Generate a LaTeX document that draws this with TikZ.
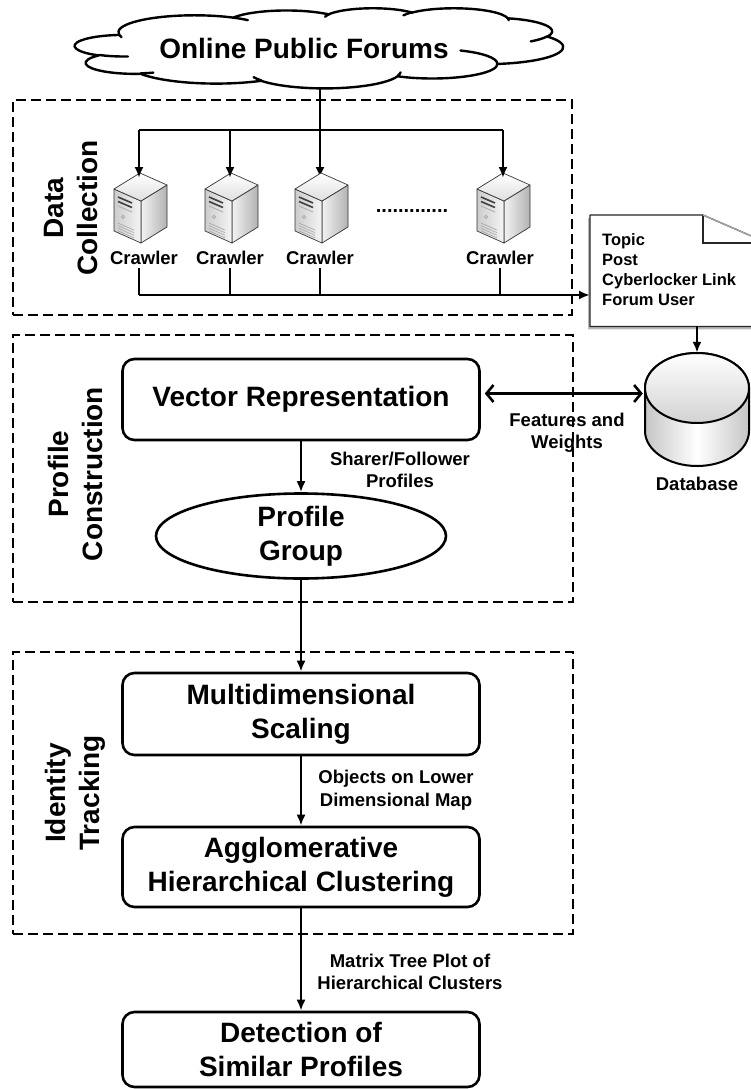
\documentclass[tikz,border=0pt]{standalone}
\usepackage{fontspec}
\setmainfont{Liberation Sans}
\usetikzlibrary{shapes.geometric,arrows.meta,calc}

% visual (DrawingML) angle -> parametric arc angles
\newcommand\cldang[5]{%
  \pgfmathsetmacro\cldts{atan2(sin(#4)/(#3),cos(#4)/(#2))}%
  \pgfmathsetmacro\cldte{atan2(sin(#4+#5)/(#3),cos(#4+#5)/(#2))}%
  \pgfmathsetmacro\cldd{((#5)>0)*mod(\cldte-\cldts+720,360)-((#5)<0)*mod(\cldts-\cldte+720,360)}%
  \expandafter\xdef\csname cld#1s\endcsname{\cldts}%
  \expandafter\xdef\csname cld#1d\endcsname{\cldd}%
}
\cldang{A}{67.53}{91.90}{-190.4875}{123.7805}
\cldang{B}{53.33}{72.67}{-144.1024}{89.9452}
\cldang{C}{43.65}{59.45}{-145.8079}{99.7230}
\cldang{D}{48.57}{65.95}{-130.9861}{117.2417}
\cldang{E}{53.33}{72.73}{-78.7089}{109.0269}
\cldang{F}{67.75}{92.20}{-46.2673}{130.2690}
\cldang{G}{57.85}{78.67}{0.6250}{114.0333}
\cldang{H}{67.52}{92.15}{22.4516}{115.1726}
\cldang{I}{77.20}{105.43}{66.2426}{75.7110}
\cldang{J}{43.60}{59.18}{-274.9421}{146.7356}
\cldang{K}{43.45}{59.45}{-246.8285}{152.5189}
\cldang{a}{43.45}{59.45}{86.7420}{26.4295}
\cldang{b}{43.60}{59.18}{73.6105}{11.4475}
\cldang{c}{67.52}{92.15}{137.6242}{14.0811}
\cldang{d}{67.52}{92.15}{6.4533}{15.9984}
\cldang{e}{57.85}{78.67}{-70.2924}{70.9174}
\cldang{f}{53.33}{72.73}{30.3180}{27.7515}
\cldang{g}{48.57}{65.95}{-13.7443}{14.8589}
\cldang{h}{48.57}{65.95}{-149.1815}{18.1954}
\cldang{i}{43.65}{59.45}{-163.4943}{17.6864}
\cldang{j}{67.53}{91.90}{-66.7070}{12.3194}
\cldang{k}{67.53}{91.90}{157.6544}{11.8582}

\tikzset{
  big/.style={font=\fontsize{28}{34}\selectfont\bfseries},
  small/.style={font=\fontsize{18.5}{22.5}\selectfont\bfseries, align=center, inner sep=0pt},
  doctxt/.style={font=\fontsize{16.5}{20}\selectfont\bfseries, align=left, inner sep=0pt},
  procbox/.style={draw, line width=2.6pt, rounded corners=12pt, minimum width=357pt, big, align=center, inner sep=0pt},
  dashbox/.style={draw, line width=2.6pt, dash pattern=on 10pt off 5pt, inner sep=0pt},
  sidelabel/.style={font=\fontsize{28}{34}\selectfont\bfseries, rotate=90, align=center, inner sep=0pt},
  arr/.style={line width=2.4pt, -{Latex[length=11pt,width=9pt]}},
  conn/.style={line width=2.4pt},
  cloudline/.style={line width=2.4pt, line join=round, line cap=round},
  barb/.style={line width=2.6pt, {Straight Barb[length=7pt,width=17pt]}-{Straight Barb[length=7pt,width=17pt]}},
  server/.pic={
    \shade[left color=gray!10, right color=gray!60, draw=black!80, line width=0.7pt, line join=round]
      (1,28) -- (27,12) -- (27,54) -- (1,70) -- cycle;
    \shade[left color=gray!40, right color=gray!8, draw=black!80, line width=0.7pt, line join=round]
      (-26,16) -- (1,28) -- (1,70) -- (-26,58) -- cycle;
    \shade[top color=white, bottom color=gray!25, draw=black!80, line width=0.7pt, line join=round]
      (0,0) -- (27,12) -- (1,28) -- (-26,16) -- cycle;
    \draw[black!75, line width=1.6pt] (-22,24) -- (-8,30);
    \draw[black!75, line width=1.6pt] (-22,28.5) -- (-8,34.5);
    \draw[gray!60, line width=1pt] (-22,33) -- (-8,39);
    \draw[gray!70, line width=0.6pt] (-17,44) circle[radius=1.6pt];
    \foreach \o in {0,2.6,5.2,7.8}{\draw[gray!70, line width=0.6pt] (-22,50+\o) -- (-6,57.1+\o);}
  }
}

\begin{document}
\begin{tikzpicture}[x=1pt,y=-1pt]
\fill[white] (0,0) rectangle (751,1089);
\useasboundingbox (0,0) rectangle (751,1089);

% ---------- dashed frames ----------
\node[dashbox, minimum width=559pt, minimum height=215pt] (dcbox) at (292.5,207.5) {};
\node[dashbox, minimum width=560pt, minimum height=267pt] (pcbox) at (293,468.5) {};
\node[dashbox, minimum width=560pt, minimum height=282pt] (itbox) at (293,793) {};

\node[sidelabel] (dcl) at (71,208) {Data\\Collection};
\node[sidelabel] (pcl) at (75,474) {Profile\\Construction};
\node[sidelabel] (itl) at (75,793) {Identity\\Tracking};

% ---------- crawlers (coordinates) ----------
\coordinate (s1) at (139,178);
\coordinate (s2) at (230,178);
\coordinate (s3) at (320,178);
\coordinate (s4) at (503,178);
\coordinate (t1) at (139,130);
\coordinate (t4) at (503,130);
\coordinate (b1) at (139,295);
\coordinate (cloudc) at (320,60);

% ---------- cloud ----------
\draw[arr] (cloudc) -- (s3);
\begin{scope}[shift={(75,8)}, x=1.1296pt, y=-0.18519pt]
  \filldraw[fill=white, cloudline] (39.00,143.70)
    arc[x radius=67.53, y radius=91.90, start angle=\cldAs, delta angle=\cldAd]
    arc[x radius=53.33, y radius=72.67, start angle=\cldBs, delta angle=\cldBd]
    arc[x radius=43.65, y radius=59.45, start angle=\cldCs, delta angle=\cldCd]
    arc[x radius=48.57, y radius=65.95, start angle=\cldDs, delta angle=\cldDd]
    arc[x radius=53.33, y radius=72.73, start angle=\cldEs, delta angle=\cldEd]
    arc[x radius=67.75, y radius=92.20, start angle=\cldFs, delta angle=\cldFd]
    arc[x radius=57.85, y radius=78.67, start angle=\cldGs, delta angle=\cldGd]
    arc[x radius=67.52, y radius=92.15, start angle=\cldHs, delta angle=\cldHd]
    arc[x radius=77.20, y radius=105.43, start angle=\cldIs, delta angle=\cldId]
    arc[x radius=43.60, y radius=59.18, start angle=\cldJs, delta angle=\cldJd]
    arc[x radius=43.45, y radius=59.45, start angle=\cldKs, delta angle=\cldKd]
    -- cycle;
  \draw[cloudline] (46.93,261.77) arc[x radius=43.45, y radius=59.45, start angle=\cldas, delta angle=\cldad];
  \draw[cloudline] (69.28,348.99) arc[x radius=43.60, y radius=59.18, start angle=\cldbs, delta angle=\cldbd];
  \draw[cloudline] (164.78,390.90) arc[x radius=67.52, y radius=92.15, start angle=\cldcs, delta angle=\cldcd];
  \draw[cloudline] (288.27,347.51) arc[x radius=67.52, y radius=92.15, start angle=\cldds, delta angle=\clddd];
  \draw[cloudline] (341.29,229.54) arc[x radius=57.85, y radius=78.67, start angle=\cldes, delta angle=\clded];
  \draw[cloudline] (417.98,153.54) arc[x radius=53.33, y radius=72.73, start angle=\cldfs, delta angle=\cldfd];
  \draw[cloudline] (383.24,54.26) arc[x radius=48.57, y radius=65.95, start angle=\cldgs, delta angle=\cldgd];
  \draw[cloudline] (290.78,39.52) arc[x radius=48.57, y radius=65.95, start angle=\cldhs, delta angle=\cldhd];
  \draw[cloudline] (221.41,47.20) arc[x radius=43.65, y radius=59.45, start angle=\cldis, delta angle=\cldid];
  \draw[cloudline] (140.00,51.92) arc[x radius=67.53, y radius=91.90, start angle=\cldjs, delta angle=\cldjd];
  \draw[cloudline] (41.27,157.89) arc[x radius=67.53, y radius=91.90, start angle=\cldks, delta angle=\cldkd];
\end{scope}
\node[big, inner sep=0pt] (cloudtxt) at (304,48) {Online Public Forums};

% ---------- crawlers ----------
\pic at (140,173) {server};
\pic at (231,173) {server};
\pic at (321,173) {server};
\pic at (503,173) {server};

\node[small] (c1) at (144,258) {Crawler};
\node[small] (c2) at (230,258) {Crawler};
\node[small] (c3) at (320,258) {Crawler};
\node[small] (c4) at (500,258) {Crawler};
\node[font=\fontsize{20}{20}\selectfont\bfseries, inner sep=0pt] (dots) at (412,211) {.............};

\draw[conn] (t1) -- (t4);
\draw[arr] (t1) -- (s1);
\draw[arr] (s2 |- t1) -- (s2);
\draw[arr] (t4) -- (s4);

\draw[conn, shorten <=3pt] (c1.south -| s1) -- (b1);
\draw[conn, shorten <=3pt] (c2.south -| s2) -- (s2 |- b1);
\draw[conn, shorten <=3pt] (c3.south -| s3) -- (s3 |- b1);
\draw[conn, shorten <=3pt] (c4.south) -- (c4.south |- b1);

% ---------- document ----------
\node[minimum width=177pt, minimum height=111pt, anchor=north west, inner sep=0pt] (doc) at (590,215) {};
\fill[gray!55] ([shift={(-2,3)}]doc.north west) -- ([shift={(111,3)}]doc.north west)
   -- ([shift={(-2,31)}]doc.north east) -- ([shift={(-2,3)}]doc.south east) -- ([shift={(-2,3)}]doc.south west) -- cycle;
\filldraw[fill=white, draw=black!85, line width=1.3pt, line join=round]
   (doc.north west) -- ([xshift=113pt]doc.north west) -- ([yshift=-28pt]doc.north east)
   -- (doc.south east) -- (doc.south west) -- cycle;
\draw[black!85, line width=1.3pt] ([xshift=113pt]doc.north west) -- ([xshift=113pt,yshift=-28pt]doc.north west)
   -- ([yshift=-28pt]doc.north east);
\draw[gray!70, line width=1.3pt] ([xshift=113pt]doc.north west) -- ([yshift=-28pt]doc.north east);
\node[doctxt, anchor=west] (dtxt) at (602,270) {Topic\\Post\\Cyberlocker Link\\Forum User};

\draw[arr] (b1) -- (b1 -| doc.west);

% ---------- database ----------
\node[minimum width=104pt, minimum height=113pt, inner sep=0pt] (db) at (697,409.5) {};
\shade[left color=gray!45, right color=gray!45, middle color=white, draw=black, line width=2pt]
  (645,388) -- (645,431)
  .. controls (645,450.3) and (668.3,466) .. (697,466)
  .. controls (725.7,466) and (749,450.3) .. (749,431)
  -- (749,388)
  .. controls (749,368.7) and (725.7,353) .. (697,353)
  .. controls (668.3,353) and (645,368.7) .. (645,388) -- cycle;
\shade[top color=white, bottom color=gray!35, draw=black, line width=2pt]
  (697,388) ellipse [x radius=52pt, y radius=35pt];
\node[small] (dbl) at (697,484) {Database};

\draw[arr] (doc.south -| db) -- (db.north);

% ---------- profile construction ----------
\node[procbox, minimum height=81pt] (vr) at (301,399.5) {Vector Representation};
\node[ellipse, draw, line width=2.6pt, minimum width=290pt, minimum height=85pt, inner sep=0pt, big, align=center] (pg) at (301,536) {Profile\\Group};
\draw[arr] (vr) -- (pg);
\node[small] (sfl) at (400,470) {Sharer/Follower\\Profiles};

\coordinate (fa) at ([xshift=4pt,yshift=6pt]vr.east);
\draw[barb, shorten >=2pt] (fa) -- (fa -| db.west);
\node[small] (fwl) at (567,433) {Features and\\Weights};

% ---------- identity tracking ----------
\node[procbox, minimum height=82pt] (mds) at (301,714) {Multidimensional\\Scaling};
\node[procbox, minimum height=80pt] (ahc) at (301,867) {Agglomerative\\Hierarchical Clustering};
\node[procbox, minimum height=75pt] (det) at (301,1049.5) {Detection of\\Similar Profiles};

\draw[arr] (pg) -- (mds);
\draw[arr] (mds) -- (ahc);
\draw[arr] (ahc) -- (det);

\node[small] (odl) at (396,790) {Objects on Lower\\Dimensional Map};
\node[small] (mtl) at (410,972) {Matrix Tree Plot of\\Hierarchical Clusters};
\end{tikzpicture}
\end{document}
